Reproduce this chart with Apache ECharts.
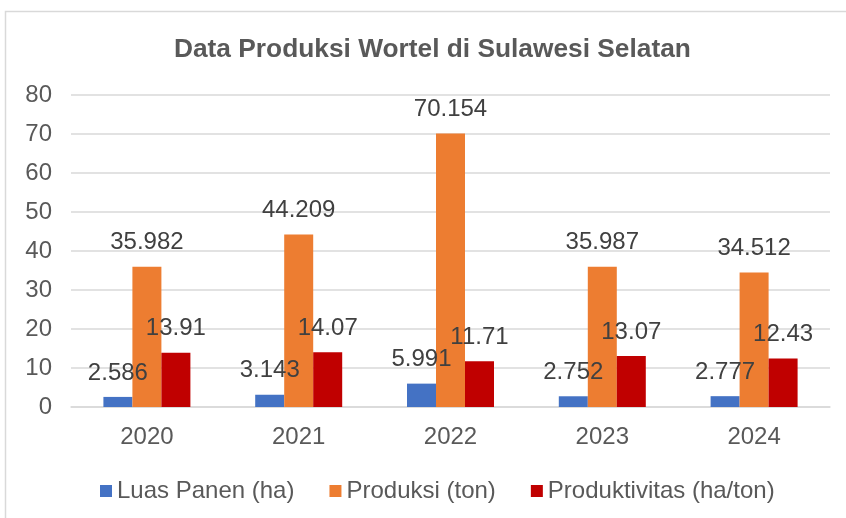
<!DOCTYPE html>
<html><head><meta charset="utf-8">
<script src="https://cdn.jsdelivr.net/npm/echarts@6/dist/echarts.min.js"></script>
<style>html,body{margin:0;padding:0;background:#fff}#c{width:846px;height:518px}</style>
</head><body><div id="c"></div>
<script>
var categories = ['2020','2021','2022','2023','2024'];
var luasPanen = [2.586, 3.143, 5.991, 2.752, 2.777];
var produksi = [35.982, 44.209, 70.154, 35.987, 34.512];
var produktivitas = [13.91, 14.07, 11.71, 13.07, 12.43];
var yTicks = [0, 10, 20, 30, 40, 50, 60, 70, 80];

var FONT = 'Liberation Sans, Arial, sans-serif';
var chart = echarts.init(document.getElementById('c'));
function mk(name, data, color) {
  return {
    name: name, type: 'bar', data: data, barWidth: 29, barGap: '0%',
    itemStyle: {color: color},
    label: {show: true, position: 'top', distance: 12, color: '#404040', fontSize: 24, fontFamily: FONT,
      formatter: function(p){ return String(p.value); }}
  };
}
chart.setOption({
  animation: false,
  graphic: [{type: 'rect', shape: {x: 5.5, y: 11.5, width: 860, height: 520},
    style: {fill: 'none', stroke: '#d9d9d9', lineWidth: 1.5}, z: -1}],
  title: {text: 'Data Produksi Wortel di Sulawesi Selatan', left: 169, top: 32,
    textStyle: {fontFamily: FONT, fontSize: 26.3, fontWeight: 'bold', color: '#595959'}},
  grid: {left: 71, right: 16, top: 95, bottom: 111},
  legend: {left: 95, top: 474, itemWidth: 12, itemHeight: 12, itemGap: 35, icon: 'rect',
    textStyle: {fontFamily: FONT, fontSize: 24, color: '#595959', padding: [0,0,0,0]}},
  xAxis: {type: 'category', data: categories,
    axisLine: {lineStyle: {color: '#d9d9d9', width: 1.5}}, axisTick: {show: false},
    axisLabel: {fontFamily: FONT, fontSize: 24, color: '#595959', margin: 18}},
  yAxis: {type: 'value', min: yTicks[0], max: yTicks[yTicks.length-1], interval: 10,
    axisLine: {show: false}, axisTick: {show: false},
    splitLine: {lineStyle: {color: '#d9d9d9', width: 1.5}},
    axisLabel: {fontFamily: FONT, fontSize: 24, color: '#595959', margin: 19}},
  series: [
    mk('Luas Panen (ha)', luasPanen, '#4472C4'),
    mk('Produksi (ton)', produksi, '#ED7D31'),
    mk('Produktivitas (ha/ton)', produktivitas, '#C00000')
  ]
});
</script></body></html>
